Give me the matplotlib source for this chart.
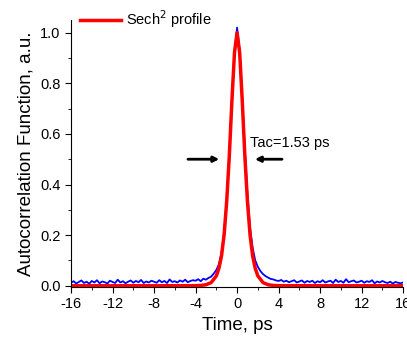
import matplotlib.pyplot as plt
import numpy as np
from matplotlib.ticker import MultipleLocator

plt.rcParams['font.family'] = ['Liberation Sans', 'DejaVu Sans']
plt.rcParams['axes.unicode_minus'] = False

# measured autocorrelation trace (0.25 ps steps, -16 .. 16 ps)
blue_t = np.arange(-16, 16.001, 0.25)
blue_y = [
    0.012, 0.018, 0.009, 0.015, 0.021, 0.011, 0.016, 0.008, 0.019, 0.013, 0.022, 0.010, 0.017, 0.014, 0.009, 0.020,
    0.015, 0.011, 0.024, 0.013, 0.018, 0.010, 0.016, 0.021, 0.012, 0.019, 0.014, 0.023, 0.011, 0.017, 0.013, 0.020,
    0.016, 0.012, 0.022, 0.014, 0.019, 0.011, 0.025, 0.015, 0.018, 0.013, 0.021, 0.016, 0.024, 0.014, 0.019, 0.022,
    0.020, 0.026, 0.018, 0.028, 0.024, 0.031, 0.036, 0.048, 0.062, 0.085, 0.13, 0.21, 0.34, 0.52, 0.73, 0.92,
    1.02, 0.93, 0.74, 0.54, 0.36, 0.23, 0.15, 0.10, 0.075, 0.058, 0.046, 0.038, 0.032, 0.027, 0.025, 0.021,
    0.019, 0.023, 0.016, 0.020, 0.014, 0.018, 0.022, 0.013, 0.017, 0.021, 0.012, 0.019, 0.015, 0.020, 0.011, 0.018,
    0.014, 0.022, 0.013, 0.017, 0.020, 0.011, 0.024, 0.015, 0.019, 0.012, 0.026, 0.014, 0.018, 0.021, 0.013, 0.016,
    0.020, 0.012, 0.018, 0.015, 0.022, 0.010, 0.017, 0.013, 0.019, 0.014, 0.011, 0.016, 0.009, 0.015, 0.012, 0.010,
    0.013,
]

# sech^2 fit
red_t = [-16, -12, -8, -4, -3.5, -3, -2.5, -2, -1.75, -1.5, -1.25, -1, -0.75, -0.5, -0.25, 0,
         0.25, 0.5, 0.75, 1, 1.25, 1.5, 1.75, 2, 2.5, 3, 3.5, 4, 8, 12, 16]
red_y = [0, 0, 0, 0.0004, 0.0013, 0.004, 0.0125, 0.039, 0.0685, 0.118, 0.201, 0.333, 0.512, 0.729, 0.921, 1.0,
         0.921, 0.729, 0.512, 0.333, 0.201, 0.118, 0.0685, 0.039, 0.0125, 0.004, 0.0013, 0.0004, 0, 0, 0]

fig = plt.figure(figsize=(4.07, 3.45), dpi=100)
ax = fig.add_axes([0.1745, 0.168, 0.816, 0.774])

ax.plot(blue_t, blue_y, color='#0000ff', lw=1.3)
ax.plot(red_t, red_y, color='#ff0000', lw=2.5, label='Sech$^2$ profile')

ax.set_xlim(-16, 16)
ax.set_ylim(-0.005, 1.05)
ax.xaxis.set_major_locator(MultipleLocator(4))
ax.xaxis.set_minor_locator(MultipleLocator(2))
ax.yaxis.set_major_locator(MultipleLocator(0.2))
ax.yaxis.set_minor_locator(MultipleLocator(0.1))
ax.tick_params(which='major', direction='out', length=4, labelsize=10.5)
ax.tick_params(which='minor', direction='out', length=2.5)
for s in ['top', 'right']:
    ax.spines[s].set_visible(False)

ax.set_xlabel('Time, ps', fontsize=13.5)
ax.set_ylabel('Autocorrelation Function, a.u.', fontsize=13.5)

ax.legend(loc='lower left', bbox_to_anchor=(0.0, 0.93), frameon=False,
          fontsize=10.5, handlelength=2.8, handletextpad=0.4, borderaxespad=0.2)

ax.annotate('', xy=(-1.45, 0.50), xytext=(-5.0, 0.50),
            arrowprops=dict(arrowstyle='-|>', color='black', lw=2, mutation_scale=8))
ax.annotate('', xy=(1.45, 0.50), xytext=(4.6, 0.50),
            arrowprops=dict(arrowstyle='-|>', color='black', lw=2, mutation_scale=8))
ax.text(1.2, 0.565, 'Tac=1.53 ps', fontsize=10.5, va='center', ha='left')

fig.savefig('out.png', dpi=100)
